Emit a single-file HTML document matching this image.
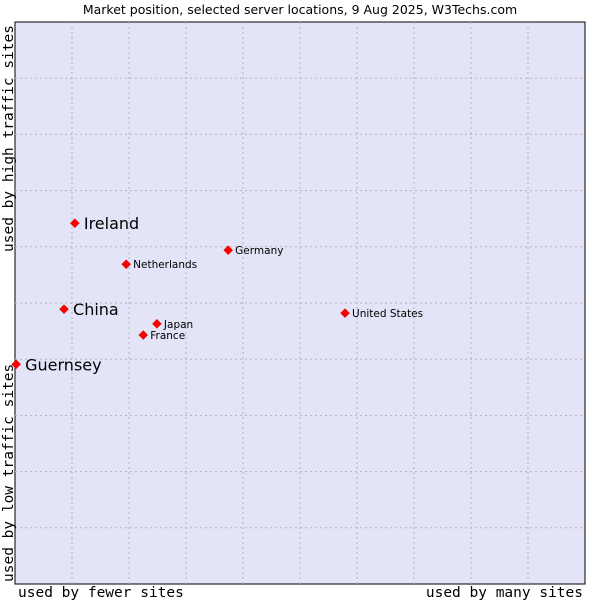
<!DOCTYPE html>
<html><head><meta charset="utf-8"><style>
body{margin:0;background:#fff;}
svg{display:block;font-family:"DejaVu Sans",sans-serif;}
</style></head><body>
<svg id="chart" width="600" height="600" xmlns="http://www.w3.org/2000/svg">
<text x="300" y="14" text-anchor="middle" font-size="12.5" fill="#000">Market position, selected server locations, 9 Aug 2025, W3Techs.com</text>
<rect x="15" y="22" width="570" height="562" fill="#e4e4f8" stroke="#000" stroke-width="1"/>
<g id="grid"></g>
<text x="18" y="597" font-family="DejaVu Sans Mono,monospace" font-size="14.5">used by fewer sites</text>
<text x="583" y="597" text-anchor="end" font-family="DejaVu Sans Mono,monospace" font-size="14.5">used by many sites</text>
<text transform="translate(13,25) rotate(-90)" text-anchor="end" font-family="DejaVu Sans Mono,monospace" font-size="14.5">used by high traffic sites</text>
<text transform="translate(13,582) rotate(-90)" font-family="DejaVu Sans Mono,monospace" font-size="14.5">used by low traffic sites</text>
<g id="points"></g>
</svg>
<script>
const countries=["Ireland","Netherlands","Germany","China","Japan","France","United States","Guernsey"];
const xValues=[10.5,19.5,37.4,8.6,24.9,22.5,57.9,0.2];
const yValues=[64.2,56.9,59.4,48.9,46.3,44.3,48.2,39.1];
const bigLabel=[true,false,false,true,false,false,false,true];
const L=15,R=585,T=22,B=584;
const sx=v=>L+v/100*(R-L);
const sy=v=>B-v/100*(B-T);
const NS="http://www.w3.org/2000/svg";
const grid=document.getElementById('grid');
for(let i=1;i<10;i++){
  const x=L+i*(R-L)/10, y=T+i*(B-T)/10;
  const v=document.createElementNS(NS,'line');
  
  
  v.setAttribute('x1',x);v.setAttribute('x2',x);v.setAttribute('y1',T);v.setAttribute('y2',B);
  v.setAttribute('stroke','#b4b4b4');v.setAttribute('stroke-dasharray','2,3');
  grid.appendChild(v);
  const h=document.createElementNS(NS,'line');
  
  
  h.setAttribute('x1',L);h.setAttribute('x2',R);h.setAttribute('y1',y);h.setAttribute('y2',y);
  h.setAttribute('stroke','#b4b4b4');h.setAttribute('stroke-dasharray','2,3');
  grid.appendChild(h);
}
const pts=document.getElementById('points');
countries.forEach((c,i)=>{
  const x=sx(xValues[i]),y=sy(yValues[i]);
  const d=document.createElementNS(NS,'path');
  
  
  d.setAttribute('d',`M${x} ${y-4.5}L${x+4.5} ${y}L${x} ${y+4.5}L${x-4.5} ${y}Z`);
  d.setAttribute('fill','#f00');d.setAttribute('stroke','#c00');d.setAttribute('stroke-width','0.5');
  pts.appendChild(d);
  const t=document.createElementNS(NS,'text');
  
  
  t.setAttribute('x',x+(bigLabel[i]?9:7));
  t.setAttribute('y',y+(bigLabel[i]?6:4));
  t.setAttribute('font-size',bigLabel[i]?'16':'10.5');
  t.textContent=c;
  pts.appendChild(t);
});
</script>
</body></html>
